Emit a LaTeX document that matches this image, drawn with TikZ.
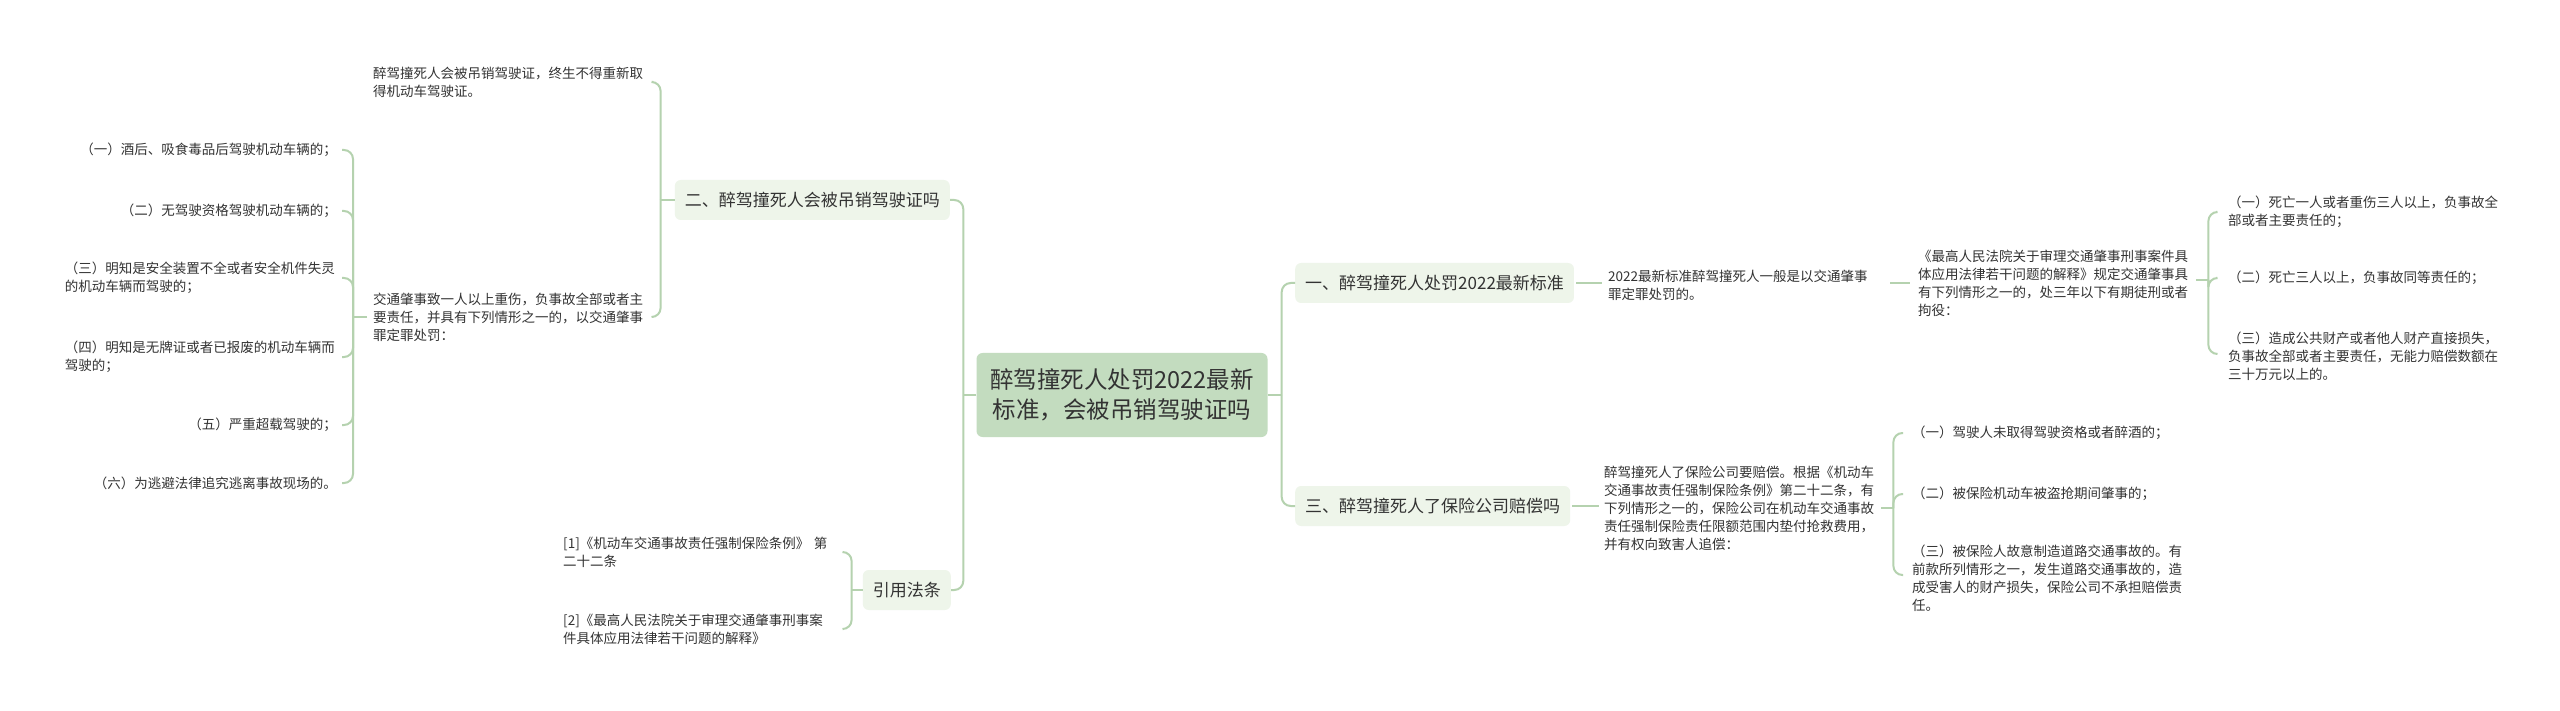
\documentclass[tikz,border=0pt]{standalone}
\usepackage{fontspec}
\setmainfont{Noto Sans CJK SC}
\usetikzlibrary{calc}
\definecolor{linec}{HTML}{B5D2AF}
\definecolor{rootc}{HTML}{C3DCBF}
\definecolor{subc}{HTML}{EEF5EA}
\definecolor{txt}{HTML}{333333}
\begin{document}
\begin{tikzpicture}[x=1pt,y=-1pt,
 rootbox/.style={fill=rootc, rounded corners=6pt, minimum width=291pt, minimum height=84pt, align=center, font=\fontsize{23.5}{30}\selectfont, text=txt, inner sep=0pt},
 subbox/.style={fill=subc, rounded corners=6pt, minimum height=40pt, inner xsep=10pt, inner ysep=0pt, font=\fontsize{17}{20}\selectfont, text=txt},
 leaf/.style={inner sep=0pt, align=left, font=\fontsize{13.5}{18}\selectfont, text=txt},
 wleaf/.style={leaf, text width=272pt},
 conn/.style={draw=linec, line width=2pt, rounded corners=9pt},
]
\useasboundingbox[fill=white] (0,0) rectangle (2560,711);

% root and main branches
\node[rootbox] (root) at (1122,395) {醉驾撞死人处罚2022最新\\标准，会被吊销驾驶证吗};
\node[subbox, anchor=west] (b1) at (1295,283) {一、醉驾撞死人处罚2022最新标准};
\node[subbox, anchor=west] (b3) at (1295,506) {三、醉驾撞死人了保险公司赔偿吗};
\node[subbox, anchor=east] (b2) at (950,200) {二、醉驾撞死人会被吊销驾驶证吗};
\node[subbox, anchor=east] (b4) at (951,590) {引用法条};

% right upper
\node[wleaf, anchor=west] (r1) at (1608,285) {2022最新标准醉驾撞死人一般是以交通肇事\\罪定罪处罚的。};
\node[wleaf, anchor=west] (r1a) at (1918,283) {《最高人民法院关于审理交通肇事刑事案件具\\体应用法律若干问题的解释》规定交通肇事具\\有下列情形之一的，处三年以下有期徒刑或者\\拘役：};
\node[wleaf, anchor=west] (r1a1) at (2228,212) {（一）死亡一人或者重伤三人以上，负事故全\\部或者主要责任的；};
\node[leaf, anchor=west] (r1a2) at (2228,278) {（二）死亡三人以上，负事故同等责任的；};
\node[wleaf, anchor=west] (r1a3) at (2228,356) {（三）造成公共财产或者他人财产直接损失，\\负事故全部或者主要责任，无能力赔偿数额在\\三十万元以上的。};

% right lower
\node[wleaf, anchor=west] (r2) at (1604,508) {醉驾撞死人了保险公司要赔偿。根据《机动车\\交通事故责任强制保险条例》第二十二条，有\\下列情形之一的，保险公司在机动车交通事故\\责任强制保险责任限额范围内垫付抢救费用，\\并有权向致害人追偿：};
\node[leaf, anchor=west] (r2a1) at (1912,433) {（一）驾驶人未取得驾驶资格或者醉酒的；};
\node[leaf, anchor=west] (r2a2) at (1912,494) {（二）被保险机动车被盗抢期间肇事的；};
\node[wleaf, anchor=west] (r2a3) at (1912,578) {（三）被保险人故意制造道路交通事故的。有\\前款所列情形之一，发生道路交通事故的，造\\成受害人的财产损失，保险公司不承担赔偿责\\任。};

% left upper
\node[wleaf, anchor=west] (l1) at (373,82) {醉驾撞死人会被吊销驾驶证，终生不得重新取\\得机动车驾驶证。};
\node[wleaf, anchor=west] (l2) at (373,317) {交通肇事致一人以上重伤，负事故全部或者主\\要责任，并具有下列情形之一的，以交通肇事\\罪定罪处罚：};
\node[leaf, anchor=east] (l2a) at (337,150) {（一）酒后、吸食毒品后驾驶机动车辆的；};
\node[leaf, anchor=east] (l2b) at (337,211) {（二）无驾驶资格驾驶机动车辆的；};
\node[wleaf, anchor=east] (l2c) at (337,278) {（三）明知是安全装置不全或者安全机件失灵\\的机动车辆而驾驶的；};
\node[wleaf, anchor=east] (l2d) at (337,357) {（四）明知是无牌证或者已报废的机动车辆而\\驾驶的；};
\node[leaf, anchor=east] (l2e) at (337,425) {（五）严重超载驾驶的；};
\node[leaf, anchor=east] (l2f) at (337,483) {（六）为逃避法律追究逃离事故现场的。};

% left lower
\node[wleaf, anchor=west] (f1) at (563,552) {[1]《机动车交通事故责任强制保险条例》 第\\二十二条};
\node[wleaf, anchor=west] (f2) at (563,629) {[2]《最高人民法院关于审理交通肇事刑事案\\件具体应用法律若干问题的解释》};

% connectors: root
\coordinate (jr) at ($(root.east)+(14,0)$);
\coordinate (jl) at ($(root.west)+(-13,0)$);
\draw[conn] (root.east) -- (jr);
\draw[conn] (jr) |- (b1.west);
\draw[conn] (jr) |- (b3.west);
\draw[conn] (root.west) -- (jl);
\draw[conn] (jl) |- (b2.east);
\draw[conn] (jl) |- (b4.east);

% right upper connectors
\draw[conn] ($(b1.east)+(2,0)$) -- ($(b1.east -| r1.west)+(-6,0)$);
\draw[conn] ($(b1.east -| r1.east)+(10,0)$) -- ($(b1.east -| r1a.west)+(-8,0)$);
\coordinate (jr1) at ($(r1a.east)+(18,-3)$);
\draw[conn] ($(r1a.east)+(6,-3)$) -- (jr1);
\draw[conn] (jr1) |- ($(r1a1.west)+(-12,0)$);
\draw[conn] (jr1) |- ($(r1a2.west)+(-12,0)$);
\draw[conn] (jr1) |- ($(r1a3.west)+(-12,-2)$);

% right lower connectors
\draw[conn] ($(b3.east)+(2,0)$) -- ($(b3.east -| r2.west)+(-5,0)$);
\coordinate (jr2) at ($(r2.east)+(17,0)$);
\draw[conn] ($(r2.east)+(5,0)$) -- (jr2);
\draw[conn] (jr2) |- ($(r2a1.west)+(-9,0)$);
\draw[conn] (jr2) |- ($(r2a2.west)+(-9,0)$);
\draw[conn] (jr2) |- ($(r2a3.west)+(-9,-3)$);

% left upper connectors
\coordinate (jl1) at ($(b2.west)+(-14,0)$);
\draw[conn] (b2.west) -- (jl1);
\draw[conn] (jl1) |- ($(l1.east)+(8,0)$);
\draw[conn] (jl1) |- ($(l2.east)+(8,0)$);
\coordinate (jl2) at ($(l2.west)+(-20,0)$);
\draw[conn] ($(l2.west)+(-6,0)$) -- (jl2);
\foreach \n in {l2a,l2b,l2c,l2d,l2e,l2f}{
  \draw[conn] (jl2) |- ($(\n.east)+(5,0)$);
}

% left lower connectors
\coordinate (jl4) at ($(b4.west)+(-11,0)$);
\draw[conn] (b4.west) -- (jl4);
\draw[conn] (jl4) |- ($(f1.east)+(8,0)$);
\draw[conn] (jl4) |- ($(f2.east)+(8,0)$);
\end{tikzpicture}
\end{document}
